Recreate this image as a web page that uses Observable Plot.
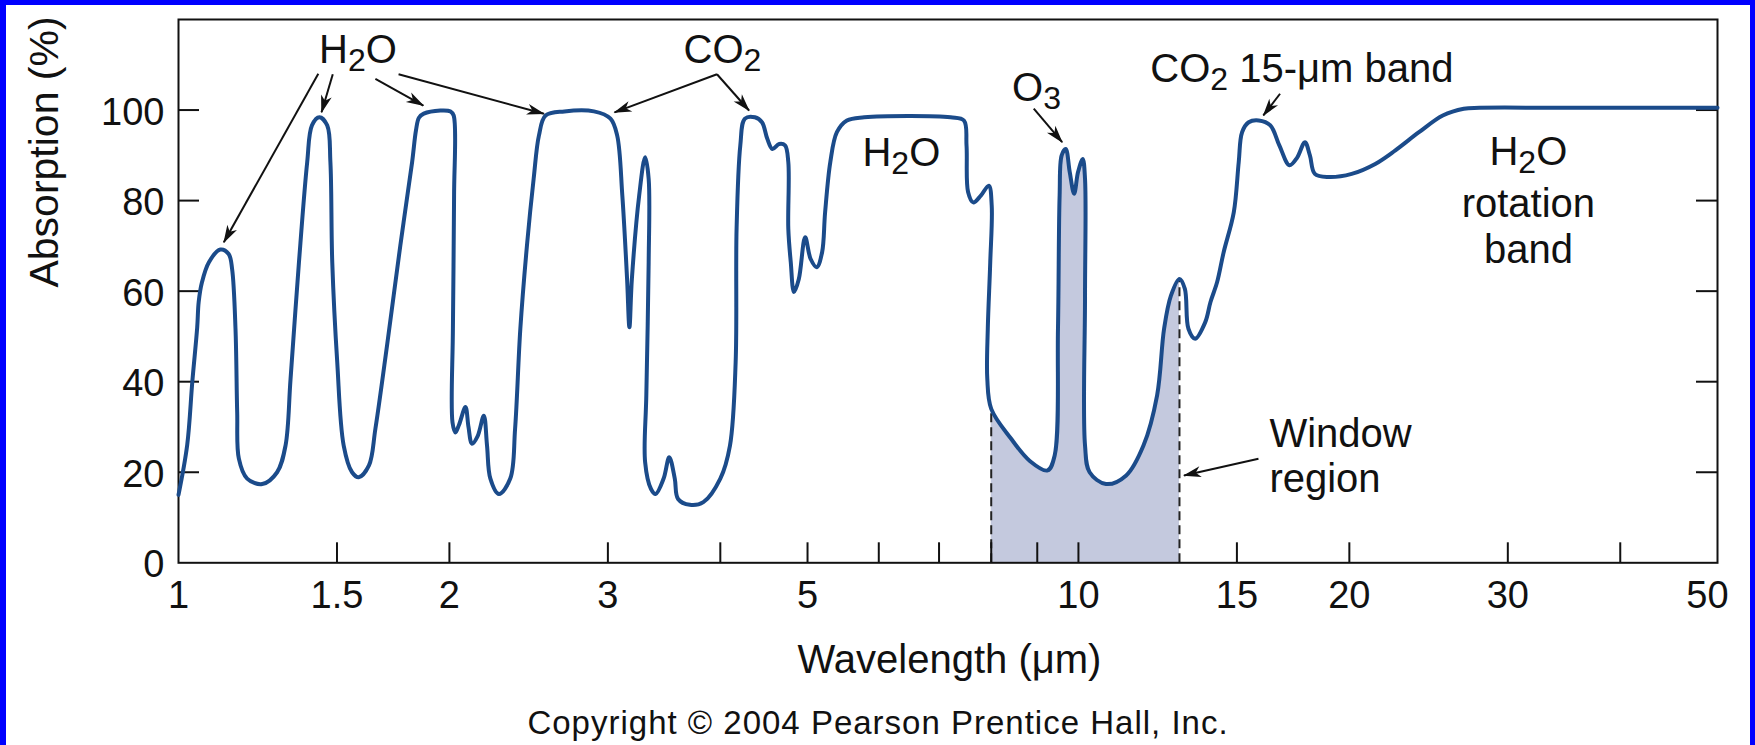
<!DOCTYPE html>
<html><head><meta charset="utf-8">
<script src="https://cdn.jsdelivr.net/npm/d3@7"></script>
<script src="https://cdn.jsdelivr.net/npm/@observablehq/plot@0.6"></script>
<style>
html,body{margin:0;padding:0;background:#0000ff;width:1755px;height:745px;overflow:hidden;}
#wrap{position:absolute;left:6px;top:5px;width:1744px;height:740px;background:#fff;}
#chart svg{display:block;}
#copy{position:absolute;left:0;top:702px;width:1744px;text-align:center;font-family:"Liberation Sans",Arial,sans-serif;font-size:33px;line-height:31px;letter-spacing:1px;color:#111;white-space:nowrap;}
</style></head><body>
<div id="wrap"><div id="chart"></div><div id="copy">Copyright © 2004 Pearson Prentice Hall, Inc.</div></div>
<script>
// ---- data ----
const wavelength = [1.000,1.0225,1.036,1.049,1.053,1.062,1.081,1.113,1.137,1.147,
1.157,1.162,1.167,1.192,1.239,1.287,1.315,1.332,1.361,1.390,
1.407,1.434,1.463,1.475,1.482,1.501,1.526,1.559,1.586,1.628,
1.655,1.705,1.764,1.818,1.836,1.850,1.873,1.954,2.006,2.022,
2.024,2.018,2.016,2.031,2.050,2.084,2.100,2.119,2.150,2.184,
2.202,2.221,2.270,2.337,2.366,2.398,2.439,2.481,2.515,2.558,
2.684,2.895,3.020,3.072,3.113,3.151,3.170,3.190,3.250,3.300,
3.330,3.330,3.310,3.300,3.350,3.390,3.460,3.510,3.560,3.590,
3.700,3.830,4.000,4.100,4.160,4.170,4.210,4.260,4.370,4.450,
4.510,4.570,4.650,4.720,4.760,4.760,4.790,4.830,4.890,4.970,
5.040,5.120,5.190,5.230,5.300,5.390,5.530,5.780,7.210,7.460,
7.510,7.540,7.640,7.790,7.950,8.010,7.980,7.930,7.920,8.000,
8.410,8.830,9.240,9.410,9.490,9.530,9.580,9.680,9.780,9.890,
9.990,10.110,10.170,10.170,10.170,10.290,10.730,11.300,11.810,12.230,
12.450,12.670,12.950,13.130,13.250,13.480,13.830,14.020,14.260,14.500,
14.880,15.070,15.200,15.460,15.860,16.340,16.720,17.160,17.500,17.850,
18.080,18.310,18.950,20.120,21.370,22.500,23.900,25.400,26.800,27.900,
35.000,51.300];
const absorption = [15,26,40,52,57.6,62,66.4,69.2,68.2,64.9,
51.7,33.3,23,18.6,17.4,20,25.9,40.6,66.4,88.5,
96.6,98.4,96.6,88.5,66.4,44.3,25.9,20,18.9,21.5,
29.6,48,70.1,88.5,95.5,98.3,99.2,99.9,99.7,98.8,
81,51.7,31,28.8,30.5,34.4,30,26.3,28,32.5,
25.9,18.6,15.2,18.6,29.6,51.7,70.1,84.8,94.4,98.8,
99.7,99.7,98.1,94.4,81.1,62.7,52,62.7,81.1,89.6,
84.8,66.4,37,22.2,16.3,15.2,18.6,23.3,18.6,14.1,
12.8,13.4,18.6,25.9,44.3,73.8,92.2,98.1,98.4,97.3,
93.7,91.4,92.5,92.2,88.5,73.8,66.4,59.8,62.7,71.9,
67.1,65.3,68.6,77.4,88.5,95.1,97.7,98.4,98.4,97.7,
92.2,81.9,79.6,81.1,83.3,78.9,66.4,51.7,40.6,34,
27.5,22.5,20.4,23.7,51.7,81.1,90,91.4,86.3,81.5,
86.3,89.2,84.8,59,25.9,20,17.4,19.3,25.9,37,
51.7,59,62.7,60.5,51.7,49.5,53.1,57.6,62,68.6,
77.4,88.5,95.1,97.3,97.7,96.6,92.2,87.8,89.5,92.9,
90,85.9,85.2,85.9,88.1,91.1,95.1,98.8,100.3,100.5,
100.5,100.5];

const windowStart = 8.0;
const windowEnd = 12.95;

const xLabelTicks = [1, 1.5, 2, 3, 5, 10, 15, 20, 30, 50];
const xMarkTicks = [1.5, 2, 3, 4, 5, 6, 7, 8, 9, 10, 15, 20, 30, 40];
const yLabelTicks = [0, 20, 40, 60, 80, 100];
const yMarkTicks = [20, 40, 60, 80, 100];

const labelsMiddle = [
  {w: 1.583, A: 110.5, label: "H_2O"},
  {w: 4.022, A: 110.5, label: "CO_2"},
  {w: 6.357, A: 87.75, label: "H_2O"},
  {w: 8.982, A: 102.1, label: "O_3"},
  {w: 31.62, A: 87.9, label: "H_2O"},
  {w: 31.62, A: 76.4, label: "rotation"},
  {w: 31.62, A: 66.3, label: "band"}
];
const labelsStart = [
  {w: 12.02, A: 106.1, label: "CO_2 15-μm band"},
  {w: 16.30, A: 25.5, label: "Window"},
  {w: 16.30, A: 15.6, label: "region"}
];
const arrows = [
  {w1: 1.430, A1: 108.0, w2: 1.123, A2: 70.8},
  {w1: 1.484, A1: 107.9, w2: 1.442, A2: 99.5},
  {w1: 1.655, A1: 106.9, w2: 1.871, A2: 101.0},
  {w1: 1.756, A1: 107.9, w2: 2.547, A2: 99.2},
  {w1: 3.966, A1: 107.9, w2: 3.051, A2: 99.5},
  {w1: 3.966, A1: 107.9, w2: 4.305, A2: 99.9},
  {w1: 8.920, A1: 100.3, w2: 9.592, A2: 92.9},
  {w1: 16.75, A1: 103.6, w2: 16.05, A2: 98.8},
  {w1: 15.85, A1: 23.0, w2: 13.10, A2: 19.3}
];

// ---- build ----
const pts = wavelength.map((w, i) => ({w, A: absorption[i]}));
const i0 = pts.findIndex(p => p.w === windowStart);
const i1 = pts.findIndex(p => p.w === windowEnd);
const winPts = pts.slice(i0, i1 + 1);
const winBounds = [pts[i0], pts[i1]];

const FONT = '"Liberation Sans", Arial, Helvetica, sans-serif';
const INK = "#111";
const W = 1744, H = 690, mL = 172, mR = 33, mT = 14, mB = 132.7;
const plotW = W - mL - mR, plotH = H - mT - mB;
const NS = "http://www.w3.org/2000/svg";

function stealth(color, context) {
  const doc = (context && context.document) || document;
  const m = doc.createElementNS(NS, "marker");
  m.setAttribute("viewBox", "-18 -6 19 12");
  m.setAttribute("markerWidth", "19");
  m.setAttribute("markerHeight", "12");
  m.setAttribute("markerUnits", "userSpaceOnUse");
  m.setAttribute("orient", "auto");
  m.setAttribute("refX", "0");
  m.setAttribute("refY", "0");
  const p = doc.createElementNS(NS, "path");
  p.setAttribute("d", "M1,0 L-17,-5.5 L-12,0 L-17,5.5 Z");
  p.setAttribute("fill", INK);
  p.setAttribute("stroke", "none");
  m.appendChild(p);
  return m;
}

function build(markerEnd) {
  return Plot.plot({
    width: W, height: H,
    marginLeft: mL, marginRight: mR, marginTop: mT, marginBottom: mB,
    style: {fontFamily: FONT, background: "#fff", color: INK, overflow: "visible"},
    x: {type: "log", domain: [1, 51.3], axis: null},
    y: {domain: [0, 120], axis: null},
    marks: [
      Plot.areaY(winPts, {x: "w", y1: 0, y2: "A", fill: "#c4c9de", curve: "catmull-rom"}),
      Plot.ruleX(winBounds, {x: "w", y1: 0, y2: "A", stroke: "#222", strokeWidth: 2, strokeDasharray: "9,5"}),
      Plot.tickX(xMarkTicks, {x: d => d, insetTop: plotH - 20, stroke: INK, strokeWidth: 2}),
      Plot.tickY(yMarkTicks, {y: d => d, insetRight: plotW - 21, stroke: INK, strokeWidth: 2}),
      Plot.tickY(yMarkTicks, {y: d => d, insetLeft: plotW - 21, stroke: INK, strokeWidth: 2}),
      Plot.frame({stroke: INK, strokeWidth: 2}),
      Plot.line(pts, {x: "w", y: "A", stroke: "#1b4b8a", strokeWidth: 4, curve: "catmull-rom", strokeLinejoin: "round", strokeLinecap: "round"}),
      Plot.link(arrows, {x1: "w1", y1: "A1", x2: "w2", y2: "A2", stroke: INK, strokeWidth: 2, markerEnd}),
      Plot.text(xLabelTicks, {x: d => d, text: d => String(d), frameAnchor: "bottom", lineAnchor: "bottom", dy: 44.7, fontSize: 38, fill: INK}),
      Plot.text(yLabelTicks, {y: d => d, text: d => String(d), frameAnchor: "left", textAnchor: "end", lineAnchor: "bottom", dx: -14, dy: 14.5, fontSize: 38, fill: INK}),
      Plot.text(["Wavelength (μm)"], {text: d => d, frameAnchor: "bottom", lineAnchor: "bottom", dx: 1.5, dy: 109.7, fontSize: 40, fill: INK}),
      Plot.text(["Absorption (%)"], {text: d => d, frameAnchor: "left", rotate: -90, lineAnchor: "bottom", dx: -121, dy: -3.6, fontSize: 41, fill: INK}),
      Plot.text(labelsMiddle, {x: "w", y: "A", text: "label", textAnchor: "middle", lineAnchor: "bottom", fontSize: 40, fill: INK}),
      Plot.text(labelsStart, {x: "w", y: "A", text: "label", textAnchor: "start", lineAnchor: "bottom", fontSize: 40, fill: INK})
    ]
  });
}

let chart;
try { chart = build(stealth); } catch (e) { chart = build("arrow"); }

// subscripts: "X_2Y" -> tspans
d3.select(chart).selectAll("text").each(function () {
  const t = this.textContent;
  if (!t.includes("_")) return;
  const parts = t.split(/_(\d)/);
  this.textContent = "";
  parts.forEach((p, i) => {
    if (!p) return;
    const ts = document.createElementNS(NS, "tspan");
    if (i % 2 === 1) { ts.setAttribute("dy", "8"); ts.setAttribute("font-size", "32"); }
    else if (i > 0) { ts.setAttribute("dy", "-8"); }
    ts.textContent = p;
    this.appendChild(ts);
  });
});

document.getElementById("chart").appendChild(chart);
</script>
</body></html>
